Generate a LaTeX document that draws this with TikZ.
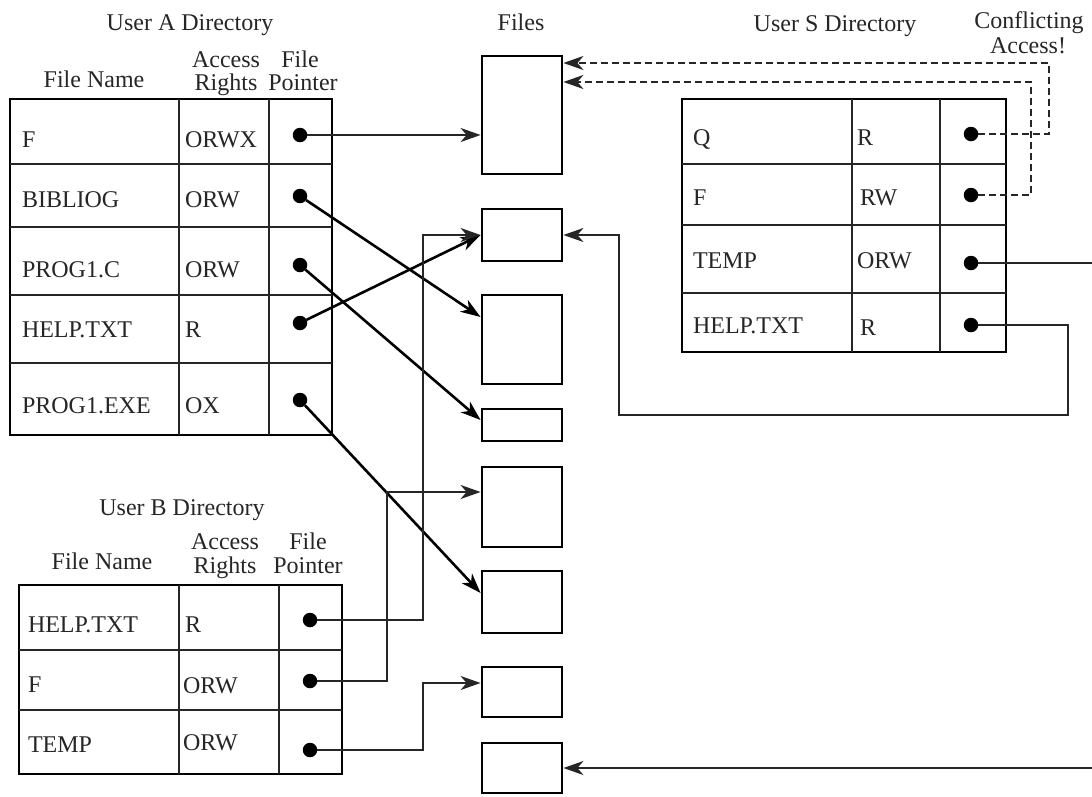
\documentclass[tikz,border=0pt]{standalone}
\usepackage{fontspec}
\setmainfont{Liberation Serif}
\usetikzlibrary{arrows.meta,calc}
\begin{document}
\begin{tikzpicture}[x=1pt,y=-1pt,
  every node/.style={font=\fontsize{24}{28}\selectfont, inner sep=0pt, outer sep=0pt, text=black!85},
  txt/.style={anchor=base west},
  hdr/.style={anchor=base},
  tbl/.style={draw, line width=2.8pt, rectangle, anchor=north west},
  gridline/.style={line width=2pt, black!85},
  filebox/.style={draw, line width=2.8pt, minimum width=80pt, inner sep=0pt, outer sep=1.4pt},
  dot/.style={circle, fill=black, minimum size=14.5pt, inner sep=0pt},
  tip/.style={-{Stealth[length=20pt,width=14pt,inset=6pt]}},
  diag/.style={tip, line width=2.6pt},
  conn/.style={tip, line width=2pt, black!85},
  dconn/.style={tip, line width=2pt, black!85, dash pattern=on 7pt off 4pt}
]
\fill[white] (0,0) rectangle (1092,796);
\useasboundingbox (0,0) rectangle (1092,796);

% ---------- headers ----------
\node[hdr] (hA) at (190,30) {User A Directory};
\node[hdr] (hAfn) at (94,87) {File Name};
\node[hdr] (hAac1) at (226,67) {Access};
\node[hdr] (hAac2) at (226,90) {Rights};
\node[hdr] (hAfp1) at (300,67) {File};
\node[hdr] (hAfp2) at (303,90) {Pointer};
\node[hdr] (hF) at (521,30) {Files};
\node[hdr] (hS) at (835,31) {User S Directory};
\node[hdr] (hC1) at (1029,28) {Conflicting};
\node[hdr] (hC2) at (1028,53) {Access!};
\node[hdr] (hB) at (182,515) {User B Directory};
\node[hdr] (hBfn) at (102,569) {File Name};
\node[hdr] (hBac1) at (225,549) {Access};
\node[hdr] (hBac2) at (225,573) {Rights};
\node[hdr] (hBfp1) at (308,549) {File};
\node[hdr] (hBfp2) at (308,573) {Pointer};

% ---------- User A table ----------
\node[tbl, minimum width=322pt, minimum height=336pt] (tA) at (10,99) {};
\draw[gridline] (179,99) -- (179,435);
\draw[gridline] (269,99) -- (269,435);
\foreach \yy in {164,227,295,363} \draw[gridline] (10,\yy) -- (332,\yy);
\node[txt] (aN1) at (22,147) {F};
\node[txt] (aN2) at (22,207) {BIBLIOG};
\node[txt] (aN3) at (22,277) {PROG1.C};
\node[txt] (aN4) at (22,337) {HELP.TXT};
\node[txt] (aN5) at (22,413) {PROG1.EXE};
\node[txt] (aR1) at (185,147) {ORWX};
\node[txt] (aR2) at (185,207) {ORW};
\node[txt] (aR3) at (185,277) {ORW};
\node[txt] (aR4) at (185,337) {R};
\node[txt] (aR5) at (185,413) {OX};
\node[dot] (aP1) at (300,135) {};
\node[dot] (aP2) at (300,196) {};
\node[dot] (aP3) at (300,265) {};
\node[dot] (aP4) at (300,323) {};
\node[dot] (aP5) at (300,400) {};

% ---------- User S table ----------
\node[tbl, minimum width=324pt, minimum height=253pt] (tS) at (682,99) {};
\draw[gridline] (852,99) -- (852,352);
\draw[gridline] (940,99) -- (940,352);
\foreach \yy in {164,225,293} \draw[gridline] (682,\yy) -- (1006,\yy);
\node[txt] (sN1) at (693,145) {Q};
\node[txt] (sN2) at (693,205) {F};
\node[txt] (sN3) at (693,268) {TEMP};
\node[txt] (sN4) at (693,333) {HELP.TXT};
\node[txt] (sR1) at (857,145) {R};
\node[txt] (sR2) at (860,205) {RW};
\node[txt] (sR3) at (857,268) {ORW};
\node[txt] (sR4) at (860,335) {R};
\node[dot] (sP1) at (971,134) {};
\node[dot] (sP2) at (971,195) {};
\node[dot] (sP3) at (971,263) {};
\node[dot] (sP4) at (971,325) {};

% ---------- User B table ----------
\node[tbl, minimum width=323pt, minimum height=189pt] (tB) at (19,585) {};
\draw[gridline] (179,585) -- (179,774);
\draw[gridline] (279,585) -- (279,774);
\foreach \yy in {650,710} \draw[gridline] (19,\yy) -- (342,\yy);
\node[txt] (bN1) at (28,632) {HELP.TXT};
\node[txt] (bN2) at (28,692) {F};
\node[txt] (bN3) at (28,752) {TEMP};
\node[txt] (bR1) at (185,632) {R};
\node[txt] (bR2) at (183,693) {ORW};
\node[txt] (bR3) at (183,750) {ORW};
\node[dot] (bP1) at (310,620) {};
\node[dot] (bP2) at (310,681) {};
\node[dot] (bP3) at (310,750) {};

% ---------- Files ----------
\node[filebox, minimum height=118pt] (f1) at (522,115) {};
\node[filebox, minimum height=52pt]  (f2) at (522,235) {};
\node[filebox, minimum height=89pt]  (f3) at (522,339.5) {};
\node[filebox, minimum height=32pt]  (f4) at (522,425) {};
\node[filebox, minimum height=80pt]  (f5) at (522,507) {};
\node[filebox, minimum height=62pt]  (f6) at (522,602) {};
\node[filebox, minimum height=50pt]  (f7) at (522,692) {};
\node[filebox, minimum height=50pt]  (f8) at (522,768) {};

% ---------- connectors from A ----------
\draw[conn] (aP1) -- (f1.west |- aP1);
\draw[diag] (aP2) -- ([yshift=22.5pt]f3.west);
\draw[diag] (aP3) -- ([yshift=5pt]f4.west);
\draw[diag] (aP4) -- (f2.west);
\draw[diag] (aP5) -- ([yshift=9pt]f6.west);

% ---------- connectors from B ----------
\draw[conn] (bP1) -| ([xshift=-58pt]f2.west) -- (f2.west);
\draw[conn] (bP2) -| ([xshift=-94pt,yshift=15pt]f5.west) -- ([yshift=15pt]f5.west);
\draw[conn] (bP3) -| ([xshift=-58pt,yshift=9pt]f7.west) -- ([yshift=9pt]f7.west);

% ---------- connectors from S ----------
\draw[dconn] (sP1) -| ([xshift=485.5pt,yshift=52pt]f1.east) -- ([yshift=52pt]f1.east);
\draw[dconn] (sP2) -| ([xshift=467.5pt,yshift=33pt]f1.east) -- ([yshift=33pt]f1.east);
\draw[conn] (sP3) -| ([xshift=533pt]f8.east) -- (f8.east);
\draw[conn] (sP4) -- ++(97,0) -- ++(0,90) -| ([xshift=55.7pt]f2.east) -- (f2.east);
\end{tikzpicture}
\end{document}
